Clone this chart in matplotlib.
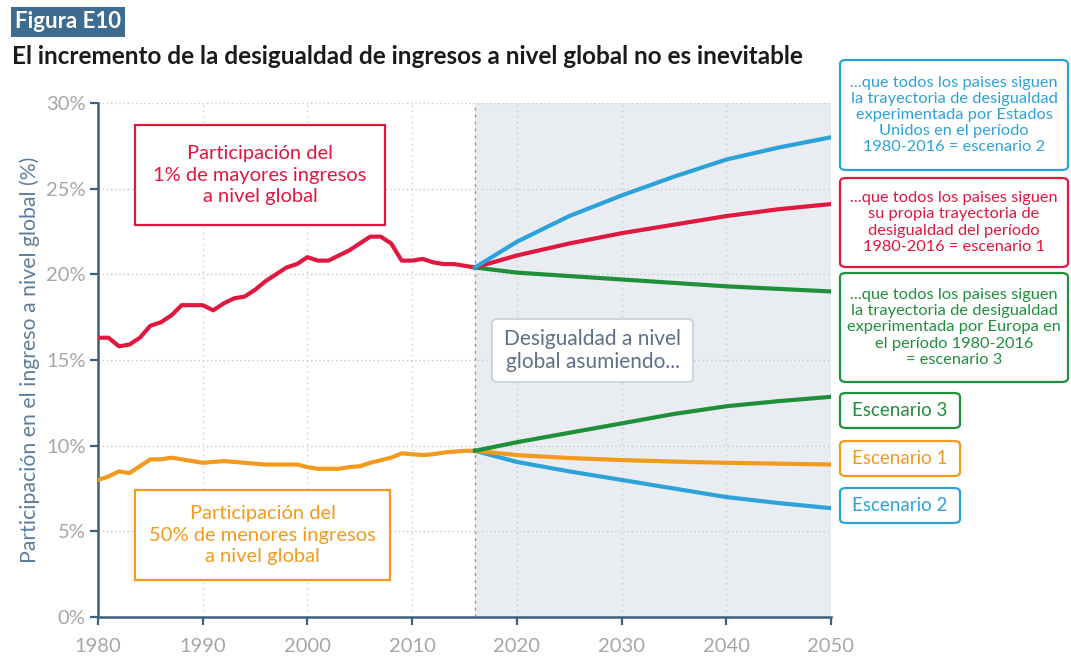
import matplotlib
matplotlib.use("Agg")
import matplotlib.pyplot as plt
from matplotlib.patches import FancyBboxPatch

# ---------------- data ----------------
hist_years = list(range(1980, 2017))
top1_hist = [16.3, 16.3, 15.8, 15.9, 16.3, 17.0, 17.2, 17.6, 18.2, 18.2,
             18.2, 17.9, 18.3, 18.6, 18.7, 19.1, 19.6, 20.0, 20.4, 20.6,
             21.0, 20.8, 20.8, 21.1, 21.4, 21.8, 22.2, 22.2, 21.8, 20.8,
             20.8, 20.9, 20.7, 20.6, 20.6, 20.5, 20.4]
bot50_hist = [8.0, 8.2, 8.5, 8.4, 8.8, 9.2, 9.2, 9.3, 9.2, 9.1,
              9.0, 9.05, 9.1, 9.05, 9.0, 8.95, 8.9, 8.9, 8.9, 8.9,
              8.75, 8.65, 8.65, 8.65, 8.75, 8.8, 9.0, 9.15, 9.3, 9.55,
              9.5, 9.45, 9.5, 9.6, 9.65, 9.7, 9.7]

proj_years = [2016, 2020, 2025, 2030, 2035, 2040, 2045, 2050]
top1_esc2 = [20.4, 21.9, 23.4, 24.6, 25.7, 26.7, 27.4, 28.0]
top1_esc1 = [20.4, 21.1, 21.8, 22.4, 22.9, 23.4, 23.8, 24.1]
top1_esc3 = [20.4, 20.1, 19.9, 19.7, 19.5, 19.3, 19.15, 19.0]
bot50_esc3 = [9.7, 10.2, 10.75, 11.3, 11.85, 12.3, 12.6, 12.85]
bot50_esc1 = [9.7, 9.45, 9.28, 9.16, 9.07, 9.0, 8.95, 8.9]
bot50_esc2 = [9.7, 9.05, 8.5, 8.0, 7.5, 7.0, 6.65, 6.35]

x_ticks = [1980, 1990, 2000, 2010, 2020, 2030, 2040, 2050]
y_ticks = [0, 5, 10, 15, 20, 25, 30]
y_labels = ["0%", "5%", "10%", "15%", "20%", "25%", "30%"]

# ---------------- style ----------------
RED = "#e0173f"
ORANGE = "#f29a1e"
BLUE = "#2ba3d9"
GREEN = "#1f8f3a"
AXIS = "#3d5f7e"
TICKTXT = "#a6a6a6"
FONT = ["Lato", "DejaVu Sans"]
plt.rcParams["font.family"] = FONT

W, H = 1071, 658
fig = plt.figure(figsize=(W / 100, H / 100), dpi=100)
fig.patch.set_facecolor("white")

def fx(px):
    return px / W

def fy(py):
    return 1 - py / H

ax = fig.add_axes([fx(98), fy(617), fx(831) - fx(98), fy(103) - fy(617)])
ax.set_xlim(1980, 2050)
ax.set_ylim(0, 30)

ax.axvspan(2016, 2050, color="#e9edf1", zorder=0, lw=0)
ax.axvline(2016, color="#8a96a3", lw=1.0, ls=(0, (2, 3)), zorder=1)

for y in y_ticks[1:]:
    ax.axhline(y, color="#c4c9ce", lw=1.0, ls=(0, (1, 2)), zorder=1)
for x in x_ticks[1:]:
    ax.axvline(x, color="#c4c9ce", lw=1.0, ls=(0, (1, 3)), zorder=1)

lw = 3.0
ax.plot(hist_years, top1_hist, color=RED, lw=lw, zorder=3, solid_capstyle="round")
ax.plot(hist_years, bot50_hist, color=ORANGE, lw=lw, zorder=3, solid_capstyle="round")
ax.plot(proj_years, top1_esc3, color=GREEN, lw=lw, zorder=3)
ax.plot(proj_years, top1_esc1, color=RED, lw=lw, zorder=3)
ax.plot(proj_years, top1_esc2, color=BLUE, lw=lw, zorder=3)
ax.plot(proj_years, bot50_esc2, color=BLUE, lw=lw, zorder=3)
ax.plot(proj_years, bot50_esc1, color=ORANGE, lw=lw, zorder=3)
ax.plot(proj_years, bot50_esc3, color=GREEN, lw=lw, zorder=3)

for s in ["top", "right"]:
    ax.spines[s].set_visible(False)
for s in ["left", "bottom"]:
    ax.spines[s].set_color(AXIS)
    ax.spines[s].set_linewidth(1.8)
ax.set_xticks(x_ticks)
ax.set_yticks(y_ticks)
ax.set_yticklabels(y_labels)
ax.tick_params(axis="both", colors=AXIS, length=6, width=1.6, labelcolor=TICKTXT,
               labelsize=14.5)
ax.tick_params(axis="x", pad=9)
ax.tick_params(axis="y", pad=3)
ax.set_ylabel("Participación en el ingreso a nivel global (%)", color="#5d7d9c",
              fontsize=15.3, labelpad=4)

# ---------------- titles ----------------
fig.text(fx(15), fy(22), "Figura E10", color="white", fontsize=16, fontweight="bold",
         va="center", ha="left",
         bbox=dict(boxstyle="square,pad=0.2", fc="#3e6b90", ec="none"))
fig.text(fx(12), fy(57), "El incremento de la desigualdad de ingresos a nivel global no es inevitable",
         color="#1a1a1a", fontsize=17.5, fontweight="bold", va="center", ha="left")

# ---------------- boxes ----------------
def box(x0, y0, x1, y1, color, text, fs, rounded=True, tcolor=None, lw=1.6, ec=None,
        ls=1.25):
    style = "round,pad=0,rounding_size=0.006" if rounded else "square,pad=0"
    p = FancyBboxPatch((fx(x0), fy(y1)), fx(x1) - fx(x0), fy(y0) - fy(y1),
                       boxstyle=style, transform=fig.transFigure,
                       fc="white", ec=ec or color, lw=lw, zorder=5)
    fig.add_artist(p)
    fig.text(fx((x0 + x1) / 2), fy((y0 + y1) / 2), text, color=tcolor or color,
             fontsize=fs, ha="center", va="center", linespacing=ls, zorder=6)

box(135, 125, 385, 225, RED, "Participación del\n1% de mayores ingresos\na nivel global", 14.5,
    rounded=False, ls=1.3)
box(135, 490, 390, 580, ORANGE, "Participación del\n50% de menores ingresos\na nivel global", 14.5,
    rounded=False, ls=1.3)
box(492, 319, 693, 382, "#c9d2da", "Desigualdad a nivel\nglobal asumiendo...", 15,
    tcolor="#5b7089", lw=1.3, ls=1.2)

box(840, 60, 1068, 170, BLUE,
    "...que todos los paises siguen\nla trayectoria de desigualdad\nexperimentada por Estados\nUnidos en el período\n1980-2016 = escenario 2",
    11.8, ls=1.2)
box(840, 178, 1068, 267, RED,
    "...que todos los paises siguen\nsu propia trayectoria de\ndesigualdad del período\n1980-2016 = escenario 1",
    11.8, ls=1.2)
box(840, 273, 1068, 382, GREEN,
    "...que todos los paises siguen\nla trayectoria de desigualdad\nexperimentada por Europa en\nel período 1980-2016\n= escenario 3",
    11.8, ls=1.2)
box(840, 393, 960, 428, GREEN, "Escenario 3", 13.5)
box(840, 441, 960, 476, ORANGE, "Escenario 1", 13.5)
box(840, 488, 960, 523, BLUE, "Escenario 2", 13.5)

fig.savefig("out.png", dpi=100)
